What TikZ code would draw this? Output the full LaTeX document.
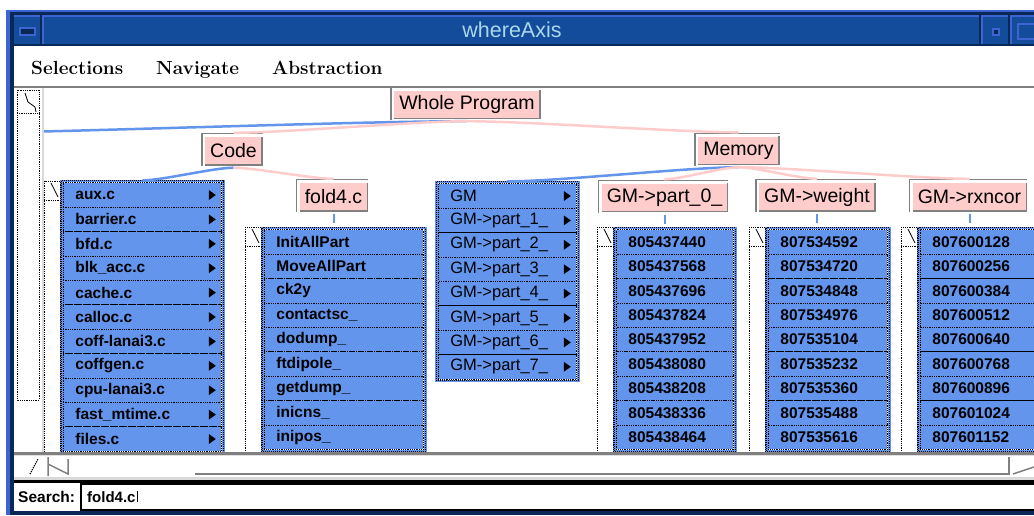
\documentclass[tikz,border=0pt]{standalone}
\usepackage{fontspec}
\newfontfamily\uifont{Liberation Sans}
\definecolor{titleblue}{RGB}{19,76,155}
\definecolor{framelight}{RGB}{60,100,210}
\definecolor{framedark}{RGB}{10,40,85}
\definecolor{titletext}{RGB}{170,215,235}
\definecolor{listblue}{RGB}{100,149,237}
\definecolor{pinkfill}{RGB}{255,204,204}
\definecolor{framegray}{RGB}{128,128,128}
\begin{document}
\begin{tikzpicture}[x=1pt,y=-1pt,
  tnode/.style={fill=pinkfill,inner xsep=5pt,inner ysep=0pt,minimum height=28pt,font=\uifont\fontsize{19.5}{22}\selectfont},
  item/.style={fill=listblue,draw=black,densely dotted,line width=0.8pt,anchor=west,minimum height=24.4pt,inner ysep=0pt,inner xsep=12pt,text width=#1,align=left,font=\uifont\bfseries\fontsize{15.5}{18}\selectfont},
  gmitem/.style={item=#1,font=\uifont\fontsize{16.5}{18}\selectfont},
  blink/.style={draw=listblue,line width=2.5pt,looseness=0.55},
  plink/.style={draw=pinkfill,line width=2.5pt,looseness=0.55},
  sbar/.style={densely dotted,line width=0.8pt},
  menu/.style={anchor=base west,inner sep=0pt,font=\bfseries\fontsize{19}{22}\selectfont}]
		\useasboundingbox (0,0) rectangle (1034,515);
		\fill[white] (0,0) rectangle (1034,515);

		% Window frame and title bar
		\fill[framedark] (6,10) rectangle (14,515);
		\fill[framelight] (6,10) rectangle (10,515);
		\fill[framelight] (6,10) rectangle (1034,12);
		\fill[framedark] (10,12) rectangle (1034,15);
		\fill[framelight] (14,15) rectangle (1034,17);
		\fill[titleblue] (14,17) rectangle (1034,44);
		\fill[framedark] (14,44) rectangle (1034,46);
		\fill[framedark] (40,15) rectangle (42,44);
		\fill[framelight] (42,17) rectangle (44,44);
		\fill[framedark] (979,15) rectangle (981,44);
		\fill[framelight] (981,17) rectangle (983,44);
		\fill[framedark] (1008,12) rectangle (1010,44);
		\fill[framelight] (1010,17) rectangle (1012,44);
		\draw[framelight,fill=framedark,line width=1.5pt] (20,28) rectangle (35,35);
		\draw[framelight,fill=framedark,line width=1.5pt] (993,29) rectangle (999,35);
		\draw[framelight,line width=1.5pt] (1018,24) rectangle (1036,39);
		\node[font=\uifont\fontsize{21.5}{24}\selectfont,text=titletext,inner sep=0pt] (title) at (512,30) {whereAxis};

		% Menu bar
		\node[menu] (sel) at (31,74) {Selections};
		\node[menu] (nav) at (156,74) {Navigate};
		\node[menu] (abstr) at (272,74) {Abstraction};
		\fill[framegray] (14,86) rectangle (1034,88);

		% Canvas scrollbar
		\fill[black!15] (42,88) rectangle (44,452);
		\draw[sbar] (17,90) rectangle (39,400);
		\draw[sbar] (17,113) -- (39,113);
		\draw[line width=0.8pt] (25,93) -- (28,102) -- (35,107) -- (36,112);

		\begin{scope}
		\clip (44,88) rectangle (1034,452);

		% Lists
		\foreach \name [count=\i] in {aux.c, barrier.c, bfd.c, blk\_acc.c, cache.c, calloc.c, coff-lanai3.c, coffgen.c, cpu-lanai3.c, fast\_mtime.c, files.c}{
			\node[item=134pt] (aux\i) at (63,{195+24.4*(\i-1)}) {\name};
			\fill (aux\i.east) ++(-13,-5) -- ++(7,5) -- ++(-7,5) -- cycle;
		}
		\foreach \name [count=\i] in {InitAllPart, MoveAllPart, ck2y, contactsc\_, dodump\_, ftdipole\_, getdump\_, inicns\_, inipos\_}
			\node[item=135pt] (fl\i) at (264,{242+24.4*(\i-1)}) {\name};
		\foreach \name [count=\i] in {GM, GM->part\_1\_, GM->part\_2\_, GM->part\_3\_, GM->part\_4\_, GM->part\_5\_, GM->part\_6\_, GM->part\_7\_}{
			\node[gmitem=114pt] (gm\i) at (438,{196+24.4*(\i-1)}) {\name};
			\fill (gm\i.east) ++(-13,-5) -- ++(7,5) -- ++(-7,5) -- cycle;
		}
		\foreach \name [count=\i] in {805437440, 805437568, 805437696, 805437824, 805437952, 805438080, 805438208, 805438336, 805438464}
			\node[item=93pt] (pa\i) at (616,{242+24.4*(\i-1)}) {\name};
		\foreach \name [count=\i] in {807534592, 807534720, 807534848, 807534976, 807535104, 807535232, 807535360, 807535488, 807535616}
			\node[item=95pt] (we\i) at (768,{242+24.4*(\i-1)}) {\name};
		\foreach \name [count=\i] in {807600128, 807600256, 807600384, 807600512, 807600640, 807600768, 807600896, 807601024, 807601152}
			\node[item=106pt] (rx\i) at (920,{242+24.4*(\i-1)}) {\name};
		\foreach \a/\b in {aux1/aux11, fl1/fl9, gm1/gm8, pa1/pa9, we1/we9, rx1/rx9}{
			\draw[listblue,line width=2.5pt] ([shift={(-1.5pt,1.5pt)}]\a.north west) rectangle ([shift={(1.5pt,-1.5pt)}]\b.south east);
			\draw[densely dotted,line width=1pt] ([shift={(-1.5pt,1.5pt)}]\a.north west) rectangle ([shift={(1.5pt,-1.5pt)}]\b.south east);
		}
		% small scrollbars beside the lists
		\foreach \xl/\yt in {63/181, 264/227, 616/227, 768/227, 920/227}{
			\draw[sbar] (\xl-19,\yt) rectangle (\xl-3,460);
			\draw[sbar] (\xl-19,\yt+19) -- (\xl-3,\yt+19);
			\draw[line width=0.8pt] (\xl-12,\yt+2) -- (\xl-5,\yt+16);
		}

		% Tree nodes
		\node[tnode] (wp) at (467,104.5) {Whole Program};
		\node[tnode] (code) at (233.5,151) {Code};
		\node[tnode] (mem) at (738.5,150.5) {Memory};
		\node[tnode] (fold) at (333.5,197) {fold4.c};
		\node[tnode] (part) at (664.5,197.5) {GM->part\_0\_};
		\node[tnode] (weight) at (817,197) {GM->weight};
		\node[tnode] (rxn) at (969.5,197) {GM->rxncor};
		\foreach \n in {wp,code,mem,fold,part,weight,rxn}{
			\draw[framegray,line width=1.5pt] (\n.south west) -| (\n.north east);
			\draw[framegray,line width=1.2pt] ([shift={(-3pt,-1pt)}]\n.south west) |- ([shift={(1pt,3pt)}]\n.north east);
		}

		% Links
		\coordinate (offleft) at (-100,134);
		\draw[blink] ([yshift=-2.5pt]wp.south) to[out=180,in=0] (offleft);
		\draw[plink] ([yshift=-2.5pt]wp.south) to[out=180,in=0] ([yshift=4pt]code.north);
		\draw[plink] ([yshift=-2.5pt]wp.south) to[out=0,in=180] ([yshift=4pt]mem.north);
		\draw[blink] ([yshift=-2.5pt]code.south) to[out=180,in=0] ([yshift=2pt]aux1.north);
		\draw[plink] ([yshift=-2.5pt]code.south) to[out=0,in=180] ([yshift=4pt]fold.north);
		\draw[blink] ([yshift=-2.5pt]mem.south) to[out=180,in=0] ([yshift=2pt]gm1.north);
		\draw[plink] ([yshift=-2.5pt]mem.south) to[out=180,in=0] ([yshift=4pt]part.north);
		\draw[plink] ([yshift=-2.5pt]mem.south) to[out=0,in=180] ([yshift=4pt]weight.north);
		\draw[plink] ([yshift=-2.5pt]mem.south) to[out=0,in=180] ([yshift=4pt]rxn.north);
		\foreach \n in {fold,part,weight,rxn}
			\draw[blink,line width=2pt] ([yshift=-3pt]\n.south) -- ++(0,9);
		\end{scope}

		% Horizontal scrollbar
		\fill[framegray] (14,452) rectangle (1034,455);
		\fill[black!12] (14,455) rectangle (1034,456);
		\draw[densely dotted,line width=1.2pt] (30,474) -- (38,459);
		\draw[framegray,line width=1.5pt] (48,476) -- (48,457) (48,464) -- (68,474) -- (68,459);
		\draw[framegray,line width=1.5pt] (195,474) -| (1009,457);
		\draw[framegray,line width=1.5pt] (1013,474) -- (1034,467);
		\fill[black!15] (14,477) rectangle (1034,480);
		\fill[black] (14,480) rectangle (1034,483);

		% Search bar
		\node[anchor=base west,inner sep=0pt,font=\uifont\bfseries\fontsize{15.5}{18}\selectfont] (search) at (18,502) {Search:};
		\draw[black,line width=2.5pt] (81,484) rectangle (1040,510);
		\node[anchor=base west,inner sep=0pt,font=\uifont\bfseries\fontsize{15}{18}\selectfont] (query) at (87,502) {fold4.c};
		\draw[line width=1.2pt] ([xshift=1.5pt]query.north east) -- ([xshift=1.5pt]query.south east);
		\fill[framedark] (14,511) rectangle (1034,515);
	\end{tikzpicture}
\end{document}
